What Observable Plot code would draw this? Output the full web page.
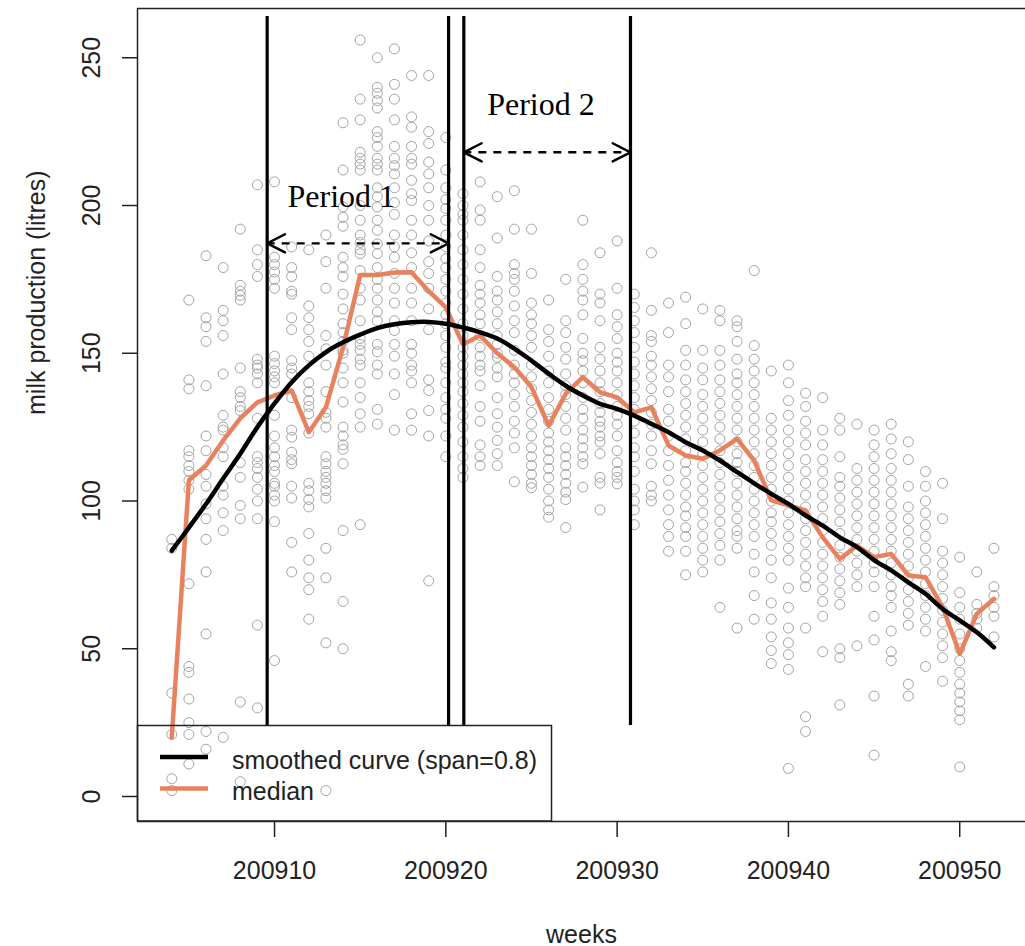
<!DOCTYPE html>
<html><head><meta charset="utf-8">
<script src="https://cdn.jsdelivr.net/npm/d3@7"></script>
<script src="https://cdn.jsdelivr.net/npm/@observablehq/plot@0.6"></script>
<style>
html,body{margin:0;padding:0;background:#fff;}
#wrap{position:relative;width:1025px;height:946px;overflow:hidden;}
</style></head><body><div id="wrap"></div>
<script>
// ---- data ----
const weeks = d3.range(200904, 200953); // 200904 ... 200952
const pointValues = [
  [87, 84, 35, 21, 6, 2],
  [168, 141, 138, 117, 115, 112, 110, 107, 104, 72, 44, 42, 33, 25, 21, 11],
  [183, 162, 159, 154, 139, 122, 117, 109, 105, 99, 94, 87, 76, 55, 22, 16],
  [179, 164.5, 161, 156, 143, 129, 125, 124, 118, 115, 105, 102, 96, 90, 20],
  [192, 173, 171, 169.6, 168, 145, 137, 135, 132, 130.6, 113, 108, 98.5, 94, 32, 5],
  [207, 185, 180, 176, 148, 146, 145, 143, 140, 128, 115, 113, 111, 108, 104, 100, 94, 58, 30],
  [208, 182.5, 180, 177.5, 175, 172, 149, 146.5, 144, 142, 140, 129, 122, 118, 115, 112, 110, 106, 105, 102, 100, 93, 46],
  [186, 179, 176, 171, 170, 162, 158, 147.5, 145, 143, 135, 124, 121.6, 116.5, 114, 112.6, 105, 101, 86, 76],
  [185, 166, 162, 158, 154, 149, 140, 137, 134, 132, 129.5, 123, 106, 103.5, 100.5, 98, 89, 80, 74, 70, 60],
  [190, 181, 172, 156, 151.5, 146, 137, 130, 128, 125, 115, 112.6, 110, 108, 106, 103.5, 101, 84, 74, 52, 2],
  [228, 212, 199.5, 196, 193, 182.5, 179, 176, 170, 165, 160, 157, 154, 151, 150, 145, 140, 133.5, 125, 122, 119, 117.5, 112.6, 90, 66, 50],
  [256, 236, 229, 218, 216, 214, 212, 200, 195, 190, 187.5, 185, 183.7, 178, 172, 168, 161, 155, 153, 151, 148, 146, 140, 135, 129.5, 125, 92],
  [250, 240, 238, 235.5, 233, 225, 223, 220, 216, 214, 212, 206, 203, 199.5, 195, 191.6, 187, 183.7, 179, 175, 172, 168, 164, 161, 153, 150.5, 146, 143, 131, 126],
  [253, 241, 236, 229, 220, 216, 213.5, 210.7, 206, 201, 197, 190, 186, 182.5, 177, 172, 167, 161, 157.7, 153, 149, 143, 136, 124],
  [244, 230, 226.5, 220, 216, 214, 208.5, 204, 201.7, 195, 190, 184, 179, 172, 167, 161, 153, 150, 146, 144, 140, 129.5, 124],
  [244, 225, 221, 214.7, 210.7, 206, 200, 195, 188, 181, 177, 172, 165, 158, 141, 137.4, 130.6, 122, 73],
  [223, 212, 206, 202, 199, 195, 190, 186, 182, 179, 175, 171, 167, 163, 160, 156, 152, 147, 145, 140, 135, 131, 128, 122, 115],
  [204, 200, 197, 195, 190, 185, 180, 175, 170, 165, 160, 156, 152, 149, 146, 143, 140, 137, 133, 129, 125, 120, 115, 111, 108],
  [208, 198.5, 195, 185, 179, 173, 170, 167, 163, 160, 156, 152, 149, 146, 144, 139, 132, 127, 119, 115, 112],
  [203, 189, 176, 171, 168, 164, 160, 156, 153, 150, 148.7, 145, 142, 135, 129.5, 125, 120.5, 116, 112],
  [205, 192, 180, 177, 175, 171, 166, 161, 157, 151, 146, 143, 140, 136, 132, 127, 123, 118, 106.5],
  [192, 177, 167, 163, 160, 156, 152, 146, 142, 138, 134, 130, 126, 122, 118, 115, 112, 109, 106, 104.5],
  [168, 158, 154, 149, 144, 140, 135, 131, 127, 123, 120, 117, 114, 111, 108, 104, 100, 97, 94.5],
  [175, 161, 157, 152, 148, 143, 139, 136, 132, 128, 124, 118, 115, 112, 109, 106, 103, 100.5, 91],
  [195, 180, 175, 171, 168, 163, 155, 150, 147.5, 144, 140, 135, 131, 128, 124, 121, 118, 115, 112.6, 104.7],
  [184, 170, 167, 161, 152, 148, 144, 140, 137, 133, 130, 127, 125, 122, 120, 116, 108, 106, 97],
  [188, 172, 163, 159, 155, 150, 147, 144, 140, 136, 132, 129, 126, 122, 117, 113, 110, 108, 105.8],
  [170, 165.5, 161, 157, 152, 147, 143, 139, 135, 131, 127, 123, 118, 115, 110, 104, 100, 97, 92],
  [184, 164.5, 156, 154, 149, 146, 142, 138, 134, 130, 126, 122, 117, 112.6, 105, 102, 100],
  [167, 157, 146, 142, 137, 131, 127, 122, 117, 112, 107, 102, 97, 92, 88, 83],
  [169, 160, 151, 146, 141, 137, 133, 129, 125, 121, 117, 113, 110, 106, 102, 98, 95, 91, 88, 83, 75],
  [165, 151, 145, 141, 136, 132, 128, 124, 120, 116, 112, 108, 104, 100, 96, 92, 88, 84, 80, 76],
  [164.5, 161, 151, 146, 141, 137, 133, 129, 125, 121, 117, 113, 109, 105, 101, 97, 93, 89, 85, 80, 64],
  [161, 159, 154, 148, 143, 140, 136, 132, 128, 124, 120, 116, 113, 110, 106, 102, 98, 94, 90, 88, 84, 57],
  [178, 152.6, 148, 144, 140, 136, 132, 128, 124, 120, 116, 112, 108, 104, 100, 96, 92, 88, 82, 76, 68, 60],
  [144, 128, 124, 120, 116, 112, 108, 104, 100, 96, 93, 89, 85, 80, 74, 65.5, 60, 54, 49.4, 45],
  [146, 140, 134, 129, 124, 120, 116, 112, 108, 104, 100, 96, 92, 88, 84, 80, 70.5, 64, 57, 52, 48, 43, 9.5],
  [136.5, 132, 127, 123, 119, 114, 110, 106, 102, 98, 94, 90, 86, 82, 78, 74, 71, 57, 27, 22],
  [135, 124, 119, 114, 110, 106, 102, 98, 94, 90, 86, 82, 78, 74, 70, 66, 61, 49],
  [128, 124, 115, 108, 105, 101, 97, 93, 89, 85, 81, 77, 73, 69, 65, 50, 47, 31],
  [126, 111, 107, 103, 99, 95, 91, 87, 83, 79, 75, 71, 51],
  [124, 119, 115, 111, 107, 103, 99, 95, 91, 87, 83, 79, 76, 71, 61, 53, 34, 14],
  [126, 121, 116, 111, 107, 103, 99, 95, 91, 87, 83, 79, 75, 71, 68, 64, 56, 49, 46],
  [120, 114, 105, 98, 94, 90, 86, 82, 78, 74, 70, 66, 62, 58, 38, 34],
  [110, 105, 100, 96, 92, 88, 84, 80, 76, 72, 68, 64, 60, 56, 44],
  [106, 94, 83, 79, 75, 71, 67, 63, 59, 55, 51, 47, 39],
  [81, 69, 64, 60, 55, 50, 46, 42, 38, 35, 32, 29, 26, 10],
  [76, 65, 62, 60, 57],
  [84, 71, 68, 64, 61, 54]
];
const medianLitres = [20, 107, 112, 120.5, 128, 133.4, 135.7, 137.4, 123.3, 131.7, 152, 176.5, 176.5, 177.3, 177.4,
  171, 165.5, 153, 156, 150, 145.3, 138.5, 125.5, 136.3, 141.9, 136.8, 135.1, 130, 131.7, 118.8, 115.4, 114.3,
  117.1, 121, 113.7, 100.2, 98.5, 96.8, 87.7, 80.4, 84.9, 81, 82.1, 74.8, 74.2, 64.1, 48.3, 61.8, 66.9];
const smoothLitres = [83.2, 91, 99, 107.6, 116, 125, 133, 140.2, 145.9, 150.4, 153.7, 156.3, 158.5, 159.8, 160.5,
  160.6, 160, 158.7, 157.1, 155, 151.6, 147.5, 143.1, 139, 135.7, 132.9, 131.2, 128.9, 126.1, 123.3, 119.9, 117.1,
  113.7, 109.8, 106, 102.4, 99, 95.1, 91.7, 87.7, 84.4, 80, 76.5, 72.5, 68.6, 63.5, 59.6, 55.6, 50.5];
const xTicks = [200910, 200920, 200930, 200940, 200950];
const yTicks = [0, 50, 100, 150, 200, 250];
const periodLines = [200909.57, 200920.16, 200921.05, 200930.78];
const periodLineSpan = [24, 264];
const periodLabels = ["Period 1", "Period 2"];
const periodStarts = [200909.57, 200921.05];
const periodEnds = [200920.16, 200930.78];
const periodArrowLevels = [187.2, 218];
const periodLabelX = [200913.9, 200925.55];
const periodLabelY = [203, 234];
const legendLabels = ["smoothed curve (span=0.8)", "median"];
const legendColors = ["#000000", "#e8825e"];
const xDomain = [200902.0, 200953.84];
const yDomain = [-8.46, 266.67];

// ---- derived tables ----
const points = weeks.flatMap((w, i) => pointValues[i].map(v => ({week: w, litres: v})));
const medianData = weeks.map((w, i) => ({week: w, litres: medianLitres[i]}));
const smoothData = weeks.map((w, i) => ({week: w, litres: smoothLitres[i]}));
const periods = periodLabels.map((label, i) => ({label, start: periodStarts[i], end: periodEnds[i],
  level: periodArrowLevels[i], lx: periodLabelX[i], ly: periodLabelY[i]}));
const wings = periods.flatMap(p => [
  {x: p.start, y: p.level, rotate: 63}, {x: p.start, y: p.level, rotate: 117},
  {x: p.end, y: p.level, rotate: 297}, {x: p.end, y: p.level, rotate: 243}]);
const wingShape = {draw(context, l) { context.moveTo(0, 0); context.lineTo(0, -l); }};

const sans = "'Liberation Sans', Arial, Helvetica, sans-serif";
const plot = Plot.plot({
  width: 1025, height: 946,
  marginLeft: 137, marginRight: 0, marginTop: 8, marginBottom: 125,
  x: {domain: xDomain},
  y: {domain: yDomain},
  style: {fontFamily: sans, fontSize: "25px", color: "#222", background: "white", overflow: "visible"},
  marks: [
    Plot.dot(points, {x: "week", y: "litres", r: 5, stroke: "#a3a3a3", strokeWidth: 1}),
    Plot.line(medianData, {x: "week", y: "litres", stroke: legendColors[1], strokeWidth: 4.5, strokeLinejoin: "round"}),
    Plot.line(smoothData, {x: "week", y: "litres", stroke: legendColors[0], strokeWidth: 4.5, curve: "catmull-rom"}),
    Plot.ruleX(periodLines, {x: d => d, y1: () => periodLineSpan[0], y2: () => periodLineSpan[1], stroke: "black", strokeWidth: 3.2}),
    Plot.ruleY(periods, {y: "level", x1: "start", x2: "end", stroke: "black", strokeWidth: 2.4, strokeDasharray: "8,7"}),
    Plot.vector(wings, {x: "x", y: "y", rotate: "rotate", length: 20, anchor: "start", shape: wingShape, stroke: "black", strokeWidth: 2.4}),
    Plot.text(periods, {x: "lx", y: "ly", text: "label", fontFamily: "'Liberation Serif', 'Times New Roman', serif", fontSize: 32, lineAnchor: "middle", fill: "black"}),
    Plot.ruleX([xDomain[0]], {stroke: "#222", strokeWidth: 1.5}),
    Plot.ruleY([yDomain[0], yDomain[1]], {stroke: "#222", strokeWidth: 1.5}),
    Plot.axisX({ticks: xTicks, tickSize: 16, tickPadding: 24, tickFormat: d => `${d}`, label: null, fontSize: 25, strokeWidth: 1.5}),
    Plot.axisY({ticks: yTicks, tickSize: 15, tickFormat: () => "", label: null, strokeWidth: 1.5}),
    Plot.text(yTicks, {y: d => d, text: d => `${d}`, frameAnchor: "left", dx: -46, rotate: -90, lineAnchor: "middle", textAnchor: "middle", fontSize: 25}),
    Plot.text(["weeks"], {frameAnchor: "bottom", dy: 113, lineAnchor: "middle", fontSize: 25}),
    Plot.text(["milk production (litres)"], {frameAnchor: "left", dx: -101, rotate: -90, lineAnchor: "middle", fontSize: 25})
  ]
});

// legend (R-style box, bottom-left inside plot region)
const svg = d3.select(plot);
const lg = svg.append("g").attr("font-family", sans).attr("font-size", 25).attr("fill", "#222")
  .attr("text-anchor", "start");
lg.append("rect").attr("x", 137.5).attr("y", 725.5).attr("width", 414).attr("height", 95.5)
  .attr("fill", "none").attr("stroke", "#222").attr("stroke-width", 1.5);
legendLabels.forEach((lab, i) => {
  const ly = 757 + i * 31.5;
  lg.append("line").attr("x1", 160).attr("x2", 208).attr("y1", ly).attr("y2", ly)
    .attr("stroke", legendColors[i]).attr("stroke-width", 4.5);
  lg.append("text").attr("x", 232).attr("y", 769 + i * 31).attr("text-anchor", "start").text(lab);
});

document.getElementById("wrap").appendChild(plot);
</script>
</body></html>
